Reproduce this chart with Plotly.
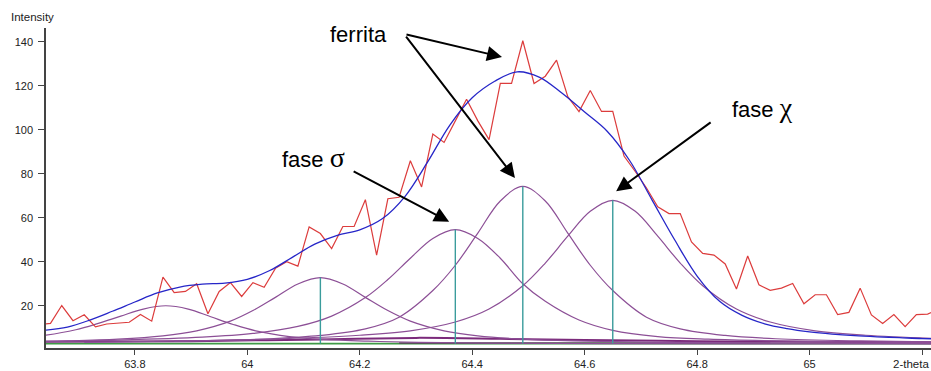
import plotly.graph_objects as go

# ---------------- data ----------------
# measured diffractogram (red)
obs_x = [63.63, 63.65, 63.67, 63.69, 63.71, 63.73, 63.75, 63.77, 63.79, 63.81, 63.83, 63.85, 63.87,
         63.89, 63.91, 63.93, 63.95, 63.97, 63.99, 64.01, 64.03, 64.05, 64.07, 64.09, 64.11, 64.13,
         64.15, 64.17, 64.19, 64.21, 64.23, 64.25, 64.27, 64.29, 64.31, 64.33, 64.35, 64.37, 64.39,
         64.41, 64.43, 64.45, 64.47, 64.49, 64.51, 64.53, 64.55, 64.57, 64.59, 64.61, 64.63, 64.65,
         64.67, 64.69, 64.71, 64.73, 64.75, 64.77, 64.79, 64.81, 64.83, 64.85, 64.87, 64.89, 64.91,
         64.93, 64.95, 64.97, 64.99, 65.01, 65.03, 65.05, 65.07, 65.09, 65.11, 65.13, 65.15, 65.17,
         65.19, 65.21, 65.23]
obs_y = [11.5, 12.0, 20.1, 13.2, 15.9, 10.4, 11.7, 12.0, 12.5, 16.0, 13.0, 33.0, 26.0,
         26.5, 30.0, 16.4, 26.5, 30.5, 24.2, 30.5, 28.4, 37.0, 40.0, 38.0, 55.8, 52.8,
         46.0, 56.0, 56.0, 68.2, 43.0, 68.6, 69.3, 85.9, 74.0, 98.0, 94.2, 104.0, 113.8,
         104.0, 95.5, 121.0, 121.0, 140.4, 121.0, 124.3, 131.6, 115.0, 108.2, 117.8, 108.3, 108.3,
         88.0, 81.0, 73.5, 65.0, 61.9, 61.9, 49.0, 43.8, 43.0, 39.0, 27.6, 42.6, 29.5,
         27.0, 28.0, 30.1, 20.9, 25.0, 25.0, 16.0, 17.0, 28.0, 15.8, 11.9, 16.0, 10.5,
         16.0, 16.2, 18.5]

# total fit (blue)
fit_x = [63.64, 63.68, 63.72, 63.76, 63.80, 63.84, 63.88, 63.92, 63.96, 64.00, 64.04, 64.08,
         64.12, 64.16, 64.20, 64.24, 64.28, 64.32, 64.36, 64.40, 64.44, 64.48, 64.52, 64.56,
         64.60, 64.64, 64.68, 64.72, 64.76, 64.80, 64.84, 64.88, 64.92, 64.96, 65.00, 65.04,
         65.08, 65.12, 65.16, 65.20, 65.24]
fit_y = [8.9, 10.3, 13.5, 17.5, 21.7, 25.8, 28.5, 29.8, 30.3, 32.0, 36.0, 42.0,
         48.0, 52.0, 54.5, 59.5, 69.5, 85.0, 102.0, 114.5, 122.0, 126.3, 123.8, 116.5,
         108.0, 99.3, 86.0, 68.0, 50.0, 33.5, 22.0, 15.6, 11.8, 9.6, 8.1, 7.1,
         6.4, 5.9, 5.5, 5.1, 4.9]

# individual peak profiles (purple)
p1_x = [63.575, 63.635, 63.695, 63.735, 63.775, 63.815, 63.855, 63.895, 63.935, 63.975, 64.015,
        64.075, 64.135, 64.215, 64.305, 64.455, 64.635, 64.9, 65.25]
p1_y = [4.9, 6.4, 9.1, 12.0, 15.3, 18.5, 20.0, 18.5, 15.0, 11.5, 8.6,
        6.0, 4.7, 3.9, 3.4, 3.0, 2.8, 2.7, 2.6]

p2_x = [63.6, 63.68, 63.77, 63.85, 63.91, 63.97, 64.01, 64.05, 64.09, 64.13, 64.17, 64.21,
        64.25, 64.29, 64.35, 64.41, 64.49, 64.58, 64.73, 64.91, 65.25]
p2_y = [3.6, 4.0, 4.8, 6.3, 8.6, 13.0, 17.8, 23.8, 29.9, 32.8, 29.9, 23.8,
        17.8, 13.0, 8.6, 6.3, 4.8, 4.0, 3.4, 3.1, 2.8]

p3_x = [63.59, 63.77, 63.92, 64.01, 64.09, 64.15, 64.21, 64.25, 64.29, 64.33, 64.37, 64.41,
        64.45, 64.49, 64.53, 64.59, 64.65, 64.73, 64.82, 64.97, 65.15, 65.3]
p3_y = [3.6, 4.4, 5.7, 7.4, 10.6, 15.3, 23.7, 31.9, 41.6, 50.6, 54.6, 50.6,
        41.6, 30.0, 22.0, 13.5, 8.8, 6.0, 4.8, 3.9, 3.4, 3.2]

p4_x = [63.71, 63.89, 64.04, 64.13, 64.21, 64.27, 64.33, 64.37, 64.41, 64.45, 64.49, 64.53,
        64.57, 64.61, 64.65, 64.71, 64.77, 64.85, 64.94, 65.09, 65.27]
p4_y = [3.4, 4.0, 5.0, 6.5, 9.5, 14.8, 26.9, 38.4, 53.0, 67.6, 74.2, 67.6,
        53.0, 38.4, 26.9, 14.8, 9.5, 6.5, 5.0, 4.0, 3.4]

p5_x = [63.87, 64.05, 64.20, 64.29, 64.37, 64.43, 64.49, 64.53, 64.57, 64.61, 64.65, 64.69,
        64.73, 64.77, 64.81, 64.87, 64.93, 65.01, 65.10, 65.25]
p5_y = [3.9, 4.9, 6.6, 8.6, 12.6, 18.5, 29.1, 39.4, 51.6, 62.9, 67.9, 62.9,
        51.6, 39.4, 29.1, 18.5, 12.6, 8.6, 6.6, 4.9]

# weak broad component near the baseline (dark purple)
low_x = [63.60, 63.90, 64.10, 64.30, 64.45, 64.60, 64.80, 65.00, 65.25]
low_y = [3.6, 3.9, 4.6, 5.4, 5.0, 4.4, 3.9, 3.6, 3.4]

# background levels
bg_x = [63.60, 65.25]
bg_y = [2.8, 2.8]
bg2_x = [64.27, 64.93]
bg2_y = [3.0, 3.0]

# peak positions marked with vertical sticks
stick_x = [64.13, 64.37, 64.49, 64.65]
stick_top = [32.8, 54.6, 74.2, 67.9]
stick_base = 2.8

x_ticks = [63.8, 64.0, 64.2, 64.4, 64.6, 64.8, 65.0, 65.2]
x_ticktext = ["63.8", "64", "64.2", "64.4", "64.6", "64.8", "65", ""]
x_title = "2-theta"
y_ticks = [20, 40, 60, 80, 100, 120, 140]
y_title = "Intensity"

# ---------------- figure ----------------
PURPLE = "#8c4f96"
fig = go.Figure()

fig.add_trace(go.Scatter(x=bg_x, y=bg_y, mode="lines", line=dict(color="#3f9a46", width=1.6)))
fig.add_trace(go.Scatter(x=bg2_x, y=bg2_y, mode="lines", line=dict(color="#555555", width=1.8)))
fig.add_trace(go.Scatter(x=low_x, y=low_y, mode="lines", line=dict(color="#7b2a7b", width=2.0, shape="spline")))

for px, py in [(p1_x, p1_y), (p2_x, p2_y), (p3_x, p3_y), (p4_x, p4_y), (p5_x, p5_y)]:
    fig.add_trace(go.Scatter(x=px, y=py, mode="lines",
                             line=dict(color=PURPLE, width=1.2, shape="spline", smoothing=1.0)))

sx, sy = [], []
for xv, top in zip(stick_x, stick_top):
    sx += [xv, xv, None]
    sy += [stick_base, top, None]
fig.add_trace(go.Scatter(x=sx, y=sy, mode="lines", line=dict(color="#3a9c9c", width=1.4)))

fig.add_trace(go.Scatter(x=obs_x, y=obs_y, mode="lines", line=dict(color="#dc3c3c", width=1.2)))
fig.add_trace(go.Scatter(x=fit_x, y=fit_y, mode="lines",
                         line=dict(color="#2626c8", width=1.3, shape="spline", smoothing=1.0)))

TXT = dict(family="Liberation Sans, Arial, sans-serif", size=22, color="black")
SMALL = dict(family="Liberation Sans, Arial, sans-serif", size=11.5, color="#222")
GREEK = "<span style='font-family:Liberation Serif;font-size:28px'>{}</span>"
ann = []
# labels
ann.append(dict(x=64.197, y=143.3, text="ferrita", showarrow=False, font=TXT))
ann.append(dict(x=64.117, y=87.5, text="fase " + GREEK.format("σ"), showarrow=False, font=TXT))
ann.append(dict(x=64.917, y=110.0, text="fase " + GREEK.format("χ"), showarrow=False, font=TXT))
# arrows (tip in data coords, tail offset in pixels)
for tip_x, tip_y, ax, ay in [(64.453, 133.0, -97, -23),
                             (64.476, 78.0, -110, -143),
                             (64.359, 58.2, -97, -51),
                             (64.656, 72.0, 96, -70)]:
    ann.append(dict(x=tip_x, y=tip_y, ax=ax, ay=ay, axref="pixel", ayref="pixel",
                    text="", showarrow=True, arrowhead=2, arrowsize=1.5, arrowwidth=2,
                    arrowcolor="black", standoff=0))
ann.append(dict(x=0.0, y=1.0, xref="paper", yref="paper", xanchor="left", yanchor="bottom",
                text=y_title, showarrow=False, xshift=-37, yshift=3, font=SMALL))
ann.append(dict(x=1.0, y=0.0, xref="paper", yref="paper", xanchor="right", yanchor="top",
                text=x_title, showarrow=False, xshift=0, yshift=-8, font=SMALL))

fig.update_layout(
    width=931, height=371,
    margin=dict(l=46, r=0, t=28, b=23),
    paper_bgcolor="white", plot_bgcolor="white",
    showlegend=False,
    annotations=ann,
    xaxis=dict(range=[63.642, 65.216], tickvals=x_ticks, ticktext=x_ticktext,
               showgrid=False, zeroline=False, showline=True, linecolor="#444", linewidth=1.5,
               ticks="outside", ticklen=5, tickcolor="#444", tickwidth=1,
               tickfont=dict(family="Liberation Sans, Arial, sans-serif", size=11, color="#222"),
               automargin=False, fixedrange=True),
    yaxis=dict(range=[0.8, 146.2], tickvals=y_ticks,
               showgrid=False, zeroline=False, showline=True, linecolor="#444", linewidth=1.5,
               ticks="outside", ticklen=6, tickcolor="#444", tickwidth=1, ticklabelstandoff=3,
               tickfont=dict(family="Liberation Sans, Arial, sans-serif", size=11, color="#222"),
               automargin=False, fixedrange=True),
)

fig.write_html("out.html", config={"displayModeBar": False},
               post_script="document.body.style.margin='0';document.body.style.overflow='hidden';")
